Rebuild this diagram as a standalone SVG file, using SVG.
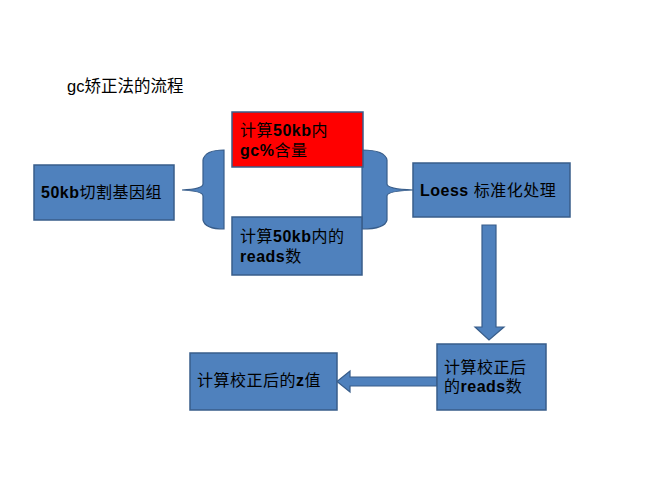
<svg xmlns="http://www.w3.org/2000/svg" width="660" height="480" viewBox="0 0 660 480">
<style>
.box{fill:#4F81BD;stroke:#385D8A;stroke-width:1.5}
.red{fill:#FF0000;stroke:#385D8A;stroke-width:1.5}
.shape{fill:#4F81BD;stroke:#385D8A;stroke-width:1.2}
text{font-family:"Liberation Sans","Noto Sans CJK SC",sans-serif;font-size:16px;fill:#000;letter-spacing:0.5px}
.b{font-weight:bold}
.title{font-size:16.5px;letter-spacing:0}
</style>
<rect width="660" height="480" fill="#FFFFFF"/>
<text class="title" x="67" y="92">gc矫正法的流程</text>
<g id="connectors">
<path class="shape" d="M224,150 Q205,150 203,160 L203,184 Q203,189 182,190 Q203,191 203,196 L203,220 Q205,229 224,229 Z"/>
<path class="shape" d="M362,150 Q385,150 387,160 L387,184 Q387,189 413,190 Q387,191 387,196 L387,220 Q385,229 362,229 Z"/>
<path class="shape" d="M482,225 L496,225 L496,327 L504,327 L489,340 L475,327 L482,327 Z"/>
<path class="shape" d="M437,377 L350,377 L350,371 L337,381.5 L350,392 L350,386 L437,386 Z"/>
</g>
<g id="n1"><rect class="box" x="34" y="165" width="140" height="55"/><text x="41" y="198"><tspan class="b">50kb</tspan>切割基因组</text></g>
<g id="n2"><rect class="red" x="232" y="112" width="131" height="55"/><text x="240" y="136">计算<tspan class="b">50kb</tspan>内</text><text x="240" y="156"><tspan class="b">gc%</tspan>含量</text></g>
<g id="n3"><rect class="box" x="232" y="217" width="130" height="58"/><text x="240" y="242">计算<tspan class="b">50kb</tspan>内的</text><text x="240" y="262"><tspan class="b">reads</tspan>数</text></g>
<g id="n4"><rect class="box" x="413" y="163" width="157" height="54"/><text x="420" y="196"><tspan class="b">Loess</tspan> 标准化处理</text></g>
<g id="n5"><rect class="box" x="437" y="344" width="109" height="66"/><text x="444" y="373">计算校正后</text><text x="444" y="392">的<tspan class="b">reads</tspan>数</text></g>
<g id="n6"><rect class="box" x="190" y="353" width="147" height="57"/><text x="197" y="386">计算校正后的<tspan class="b">z</tspan>值</text></g>
</svg>
